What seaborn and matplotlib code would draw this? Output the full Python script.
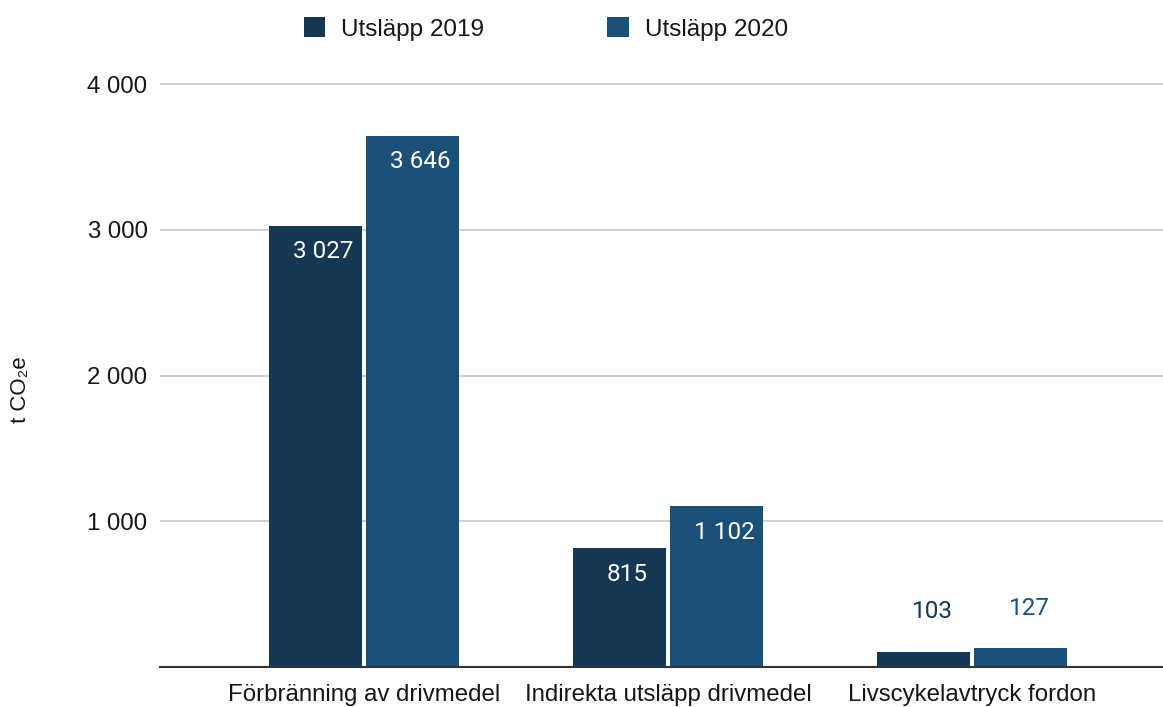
import matplotlib
matplotlib.use("Agg")
import matplotlib.pyplot as plt
from matplotlib.ticker import FuncFormatter, FixedLocator
from matplotlib.patches import Patch
import seaborn as sns
import pandas as pd

# Emissions per source, tonnes CO2e
categories = ["Förbränning av drivmedel", "Indirekta utsläpp drivmedel", "Livscykelavtryck fordon"]
series_names = ["Utsläpp 2019", "Utsläpp 2020"]
values_2019 = [3027, 815, 103]
values_2020 = [3646, 1102, 127]
colors = ["#143753", "#1b5179"]
y_ticks = [1000, 2000, 3000, 4000]

df = pd.DataFrame({
    "kategori": categories * 2,
    "serie": [series_names[0]] * 3 + [series_names[1]] * 3,
    "varde": values_2019 + values_2020,
})

sns.set_theme(style="white")
plt.rcParams["font.family"] = ["Liberation Sans", "DejaVu Sans"]

text_color = "#161616"

fig = plt.figure(figsize=(11.63, 7.07), dpi=100)
ax = fig.add_axes([160 / 1163, 40 / 707, 1 - 160 / 1163, 0.9018 - 40 / 707])

sns.barplot(data=df, x="kategori", y="varde", hue="serie", order=categories,
            hue_order=series_names, palette=colors, width=0.64, gap=0.04,
            saturation=1, legend=False, ax=ax, linewidth=0)

ax.set_ylim(0, 4100)
ax.set_xlim(-0.671, 2.628)
ax.yaxis.set_major_locator(FixedLocator(y_ticks))
ax.yaxis.set_major_formatter(FuncFormatter(lambda v, p: f"{int(v):,}".replace(",", " ")))
ax.grid(axis="y", color="#cccccc", linewidth=1.3)
ax.set_axisbelow(True)
for s in ["top", "right", "left"]:
    ax.spines[s].set_visible(False)
ax.spines["bottom"].set_color("#333333")
ax.spines["bottom"].set_linewidth(1.5)
ax.tick_params(axis="y", length=0, pad=9, labelsize=17.3, labelcolor=text_color)
ax.tick_params(axis="x", length=0, pad=12, labelsize=17.3, labelcolor=text_color)
ax.set_xlabel("")
ax.set_ylabel("")
fig.text(20 / 1163, 1 - 390 / 707, "t CO₂e", rotation=90, ha="center", va="center",
         fontsize=16, color=text_color)

# value labels: inside the bar top when tall enough, above it otherwise
for container, vals, col in zip(ax.containers, [values_2019, values_2020], colors):
    for bar, v in zip(container, vals):
        cx = bar.get_x() + bar.get_width() / 2
        label = f"{v:,}".replace(",", " ")
        if v > 500:
            ax.annotate(label, (cx, v), xytext=(8, -26), textcoords="offset pixels",
                        ha="center", va="center", color="white", fontsize=17.5,
                        family="Roboto")
        else:
            ax.annotate(label, (cx, v), xytext=(9, 40), textcoords="offset pixels",
                        ha="center", va="center", color=col, fontsize=17.5,
                        family="Roboto")

handles = [Patch(facecolor=c, edgecolor="none") for c in colors]
fig.legend(handles, series_names, loc="center", bbox_to_anchor=(546 / 1163, 1 - 29 / 707),
           ncol=2, frameon=False, fontsize=17.5, handlelength=0.9, handleheight=0.9,
           handletextpad=0.66, columnspacing=5.06, labelcolor=text_color)

fig.savefig("out.png", dpi=100)
